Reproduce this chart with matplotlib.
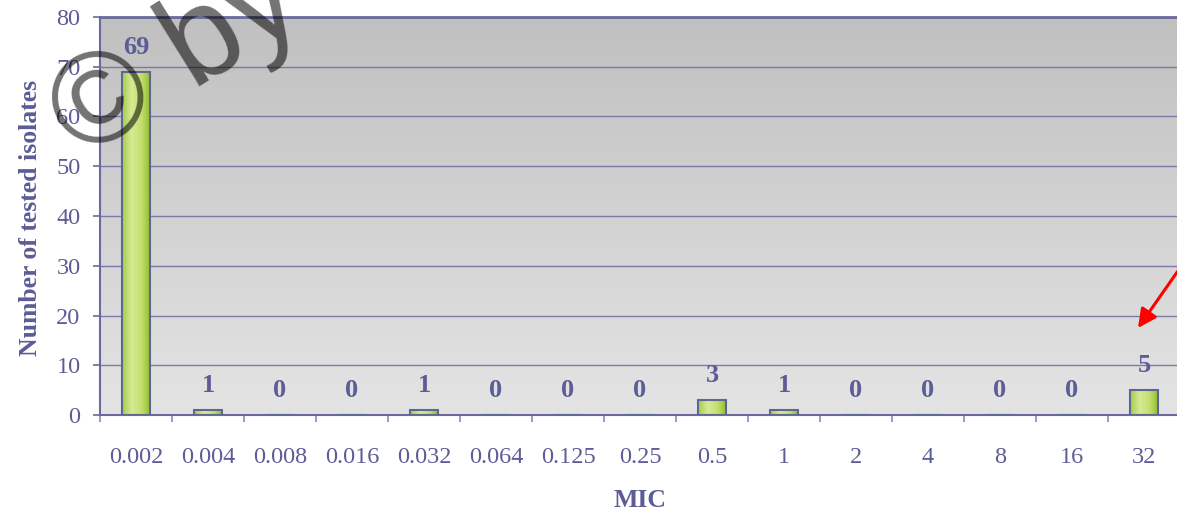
import numpy as np
import matplotlib
matplotlib.use("Agg")
import matplotlib.pyplot as plt
from matplotlib.colors import LinearSegmentedColormap

# MIC distribution of tested isolates
mic_labels = ["0.002", "0.004", "0.008", "0.016", "0.032", "0.064", "0.125",
              "0.25", "0.5", "1", "2", "4", "8", "16", "32"]
isolate_counts = [69, 1, 0, 0, 1, 0, 0, 0, 3, 1, 0, 0, 0, 0, 5]
y_ticks = [0, 10, 20, 30, 40, 50, 60, 70, 80]

TEXT = "#5c5c96"
AXIS = "#6a6a9c"
GRID = "#7a7aa8"
SERIF = ["Liberation Serif", "DejaVu Serif"]

W, H, DPI = 1177, 512, 100
fig = plt.figure(figsize=(W / DPI, H / DPI), dpi=DPI)
ax = fig.add_axes([100 / W, (H - 415) / H, 1080 / W, 398 / H])

n = len(mic_labels)
x = np.arange(n)
ax.set_xlim(-0.5, n - 0.5)
ax.set_ylim(0, 80)

# vertical grey gradient behind the plot
bg = LinearSegmentedColormap.from_list("bg", ["#e4e4e4", "#c0c0c0"])
ax.imshow(np.linspace(0, 1, 256).reshape(-1, 1), cmap=bg, origin="lower",
          extent=(-0.5, n - 0.5, 0, 80), aspect="auto", zorder=0)

for yv in y_ticks[1:]:
    ax.axhline(yv, color=GRID, lw=1.0, zorder=1)

# bars with a horizontal green sheen
green = LinearSegmentedColormap.from_list(
    "green", ["#a6cb4a", "#d6ea94", "#c4e070", "#8dbb2a"])
grad = np.linspace(0, 1, 128).reshape(1, -1)
bw = 0.39
bars = ax.bar(x, isolate_counts, width=bw, facecolor="none",
              edgecolor="#5f6690", lw=1.5, zorder=4)
for b, v in zip(bars, isolate_counts):
    if v <= 0:
        continue
    im = ax.imshow(grad, cmap=green, aspect="auto", zorder=3,
                   extent=(b.get_x(), b.get_x() + b.get_width(), 0, v))
    im.set_clip_path(b)

# value labels above each bar
for xi, v in zip(x, isolate_counts):
    ax.annotate(str(v), (xi, v), xytext=(0, 18), textcoords="offset pixels",
                ha="center", va="baseline", fontsize=19, fontweight="bold",
                family=SERIF, color=TEXT, zorder=6)

# axes styling
ax.spines["right"].set_visible(False)
for side in ("left", "bottom"):
    ax.spines[side].set_color(AXIS)
    ax.spines[side].set_linewidth(1.5)
ax.spines["top"].set_color(AXIS)
ax.spines["top"].set_linewidth(2.0)

ax.set_yticks(y_ticks)
ax.set_yticklabels([str(t) for t in y_ticks], family=SERIF, fontsize=17.5, color=TEXT)
ax.tick_params(axis="y", direction="out", length=5, width=1.2, color=AXIS, pad=9)

ax.set_xticks(x)
ax.set_xticklabels(mic_labels, family=SERIF, fontsize=17.5, color=TEXT)
ax.set_xticks(np.arange(-0.5, n, 1.0), minor=True)
ax.tick_params(axis="x", which="major", length=0, pad=23)
ax.tick_params(axis="x", which="minor", direction="out", length=5, width=1.2,
               color="#8a8ab2")

ax.set_ylabel("Number of tested isolates", family=SERIF, fontsize=18.5,
              fontweight="bold", color=TEXT)
ax.set_xlabel("MIC", family=SERIF, fontsize=18.5, fontweight="bold", color=TEXT)
ax.yaxis.set_label_coords(-58 / 1080, 0.495)
ax.xaxis.set_label_coords(540 / 1080, -74 / 398)

# red pointer to the highest MIC class
ax.annotate("", xy=(1138, H - 328), xycoords="figure pixels",
            xytext=(1187, H - 258), textcoords="figure pixels",
            arrowprops=dict(arrowstyle="-|>", color="red", lw=2.2,
                            mutation_scale=28, shrinkA=0, shrinkB=0),
            annotation_clip=False, zorder=10)

# copyright watermark
fig.text(82 / W, (H - 160) / H, "\u00a9 by", rotation=32, rotation_mode="anchor",
         ha="left", va="baseline", fontsize=93, family="Liberation Sans",
         color="black", alpha=0.55, zorder=20)

fig.savefig("out.png", dpi=DPI)
